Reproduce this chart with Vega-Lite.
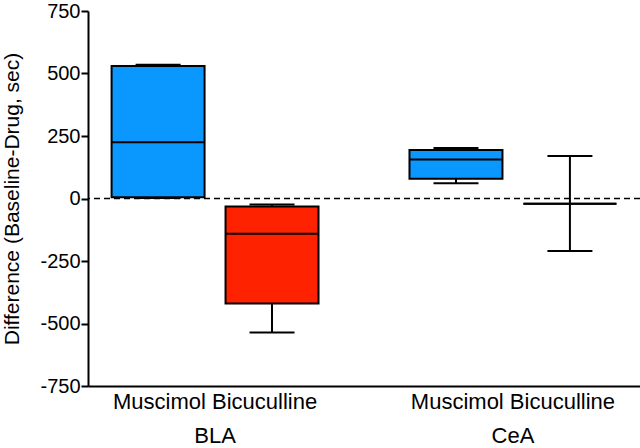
{
  "$schema": "https://vega.github.io/schema/vega-lite/v6.json",
  "width": 552,
  "height": 375,
  "autosize": {"type": "none"},
  "padding": {"left": 88, "top": 11, "right": 0, "bottom": 62},
  "background": "white",
  "config": {
    "view": {"stroke": null},
    "font": "Liberation Sans",
    "axis": {"domainColor": "black", "domainWidth": 2, "tickColor": "black", "tickWidth": 2, "labelColor": "black", "titleColor": "black", "grid": false, "labelFont": "Liberation Sans", "titleFont": "Liberation Sans"}
  },
  "data": {
    "values": [
      {"region": "BLA", "drug": "Muscimol", "min": 2, "q1": 5, "median": 225, "q3": 530, "max": 535},
      {"region": "BLA", "drug": "Bicuculline", "min": -536, "q1": -420, "median": -141, "q3": -32, "max": -24},
      {"region": "CeA", "drug": "Muscimol", "min": 61, "q1": 79, "median": 156, "q3": 194, "max": 202},
      {"region": "CeA", "drug": "Bicuculline", "min": -210, "q1": -21, "median": -21, "q3": -21, "max": 170}
    ]
  },
  "encoding": {
    "x": {
      "field": "region", "type": "nominal", "sort": ["BLA", "CeA"],
      "scale": {"paddingInner": 0.235, "paddingOuter": 0.044},
      "axis": {"title": null, "ticks": false, "labelAngle": 0, "labelFontSize": 22, "labelPadding": 5, "labelLimit": 400, "labelLineHeight": 34, "labelExpr": "['Muscimol Bicuculline', datum.label]"}
    },
    "xOffset": {
      "field": "drug", "type": "nominal", "sort": ["Muscimol", "Bicuculline"],
      "scale": {"paddingInner": 0.184, "paddingOuter": 0.092}
    }
  },
  "layer": [
    {
      "mark": {"type": "rule", "stroke": "black", "strokeWidth": 2},
      "encoding": {
        "y": {"field": "min", "type": "quantitative", "scale": {"domain": [-750, 750], "nice": false},
          "axis": {"title": "Difference (Baseline-Drug, sec)", "titleFontSize": 21, "titleFontWeight": "normal", "titlePadding": 17, "values": [-750, -500, -250, 0, 250, 500, 750], "labelExpr": "'' + datum.value", "labelFontSize": 20, "tickSize": 7, "labelPadding": 1}},
        "y2": {"field": "max"}
      }
    },
    {
      "mark": {"type": "bar", "stroke": "black", "strokeWidth": 2},
      "encoding": {
        "y": {"field": "q1", "type": "quantitative"},
        "y2": {"field": "q3"},
        "color": {"field": "drug", "type": "nominal", "scale": {"domain": ["Muscimol", "Bicuculline"], "range": ["#0a98ff", "#ff2200"]}, "legend": null}
      }
    },
    {
      "mark": {"type": "tick", "orient": "horizontal", "color": "black", "size": 93, "thickness": 2, "opacity": 1},
      "encoding": {"y": {"field": "median", "type": "quantitative"}}
    },
    {
      "mark": {"type": "tick", "orient": "horizontal", "color": "black", "size": 45, "thickness": 2, "opacity": 1},
      "encoding": {"y": {"field": "max", "type": "quantitative"}}
    },
    {
      "mark": {"type": "tick", "orient": "horizontal", "color": "black", "size": 45, "thickness": 2, "opacity": 1},
      "encoding": {"y": {"field": "min", "type": "quantitative"}}
    },
    {
      "data": {"values": [{"zero": 0}]},
      "mark": {"type": "rule", "stroke": "black", "strokeWidth": 1.5, "strokeDash": [6, 4]},
      "encoding": {"y": {"field": "zero", "type": "quantitative"}, "x": null, "xOffset": null}
    }
  ]
}
